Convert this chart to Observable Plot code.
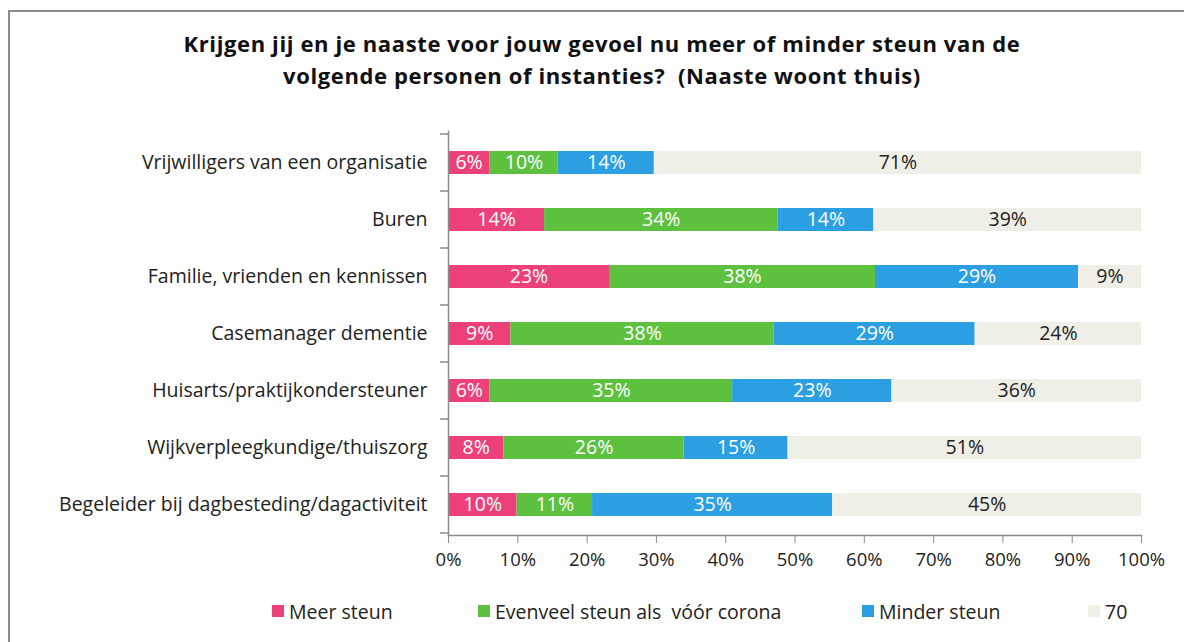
<!DOCTYPE html>
<html>
<head>
<meta charset="utf-8">
<script src="https://cdn.jsdelivr.net/npm/d3@7"></script>
<script src="https://cdn.jsdelivr.net/npm/@observablehq/plot@0.6"></script>
<style>
  html, body { margin: 0; padding: 0; background: #fff; overflow: hidden; }
  #wrap { position: relative; width: 1184px; height: 642px; overflow: hidden; font-family: "Open Sans", sans-serif; }
  #lineTop { position: absolute; left: 8px; top: 10px; width: 1176px; height: 2px; background: #8a8a8a; }
  #lineLeft { position: absolute; left: 8px; top: 10px; width: 2px; height: 632px; background: #8a8a8a; }
  #title { position: absolute; left: 0; top: 27px; width: 1184px; padding-left: 20px; box-sizing: border-box; text-align: center; font-weight: 700; font-size: 22px; letter-spacing: 0.62px; line-height: 32px; color: #111; }
  #chart { position: absolute; left: 0; top: 100px; }
  #legend { position: absolute; left: 0; top: 599px; width: 1184px; height: 24px; font-size: 19.5px; color: #222; }
  .item { position: absolute; top: 0; display: flex; align-items: center; height: 24px; white-space: pre; }
  .sw { width: 12px; height: 12px; margin-right: 5px; }
</style>
</head>
<body>
<div id="wrap">
  <div id="lineTop"></div>
  <div id="lineLeft"></div>
  <div id="title">Krijgen jij en je naaste voor jouw gevoel nu meer of minder steun van de<br>volgende personen of instanties?&nbsp; (Naaste woont thuis)</div>
  <div id="chart"></div>
  <div id="legend"></div>
</div>
<script>
const categories = [
  "Vrijwilligers van een organisatie",
  "Buren",
  "Familie, vrienden en kennissen",
  "Casemanager dementie",
  "Huisarts/praktijkondersteuner",
  "Wijkverpleegkundige/thuiszorg",
  "Begeleider bij dagbesteding/dagactiviteit"
];
const seriesNames = ["Meer steun", "Evenveel steun als  vóór corona", "Minder steun", "70"];
const meerSteun     = [6, 14, 23, 9, 6, 8, 10];
const evenveelSteun = [10, 34, 38, 38, 35, 26, 11];
const minderSteun   = [14, 14, 29, 29, 23, 15, 35];
const overig        = [71, 39, 9, 24, 36, 51, 45];
const colors = ["#ec407a", "#5dc13f", "#2c9fe3", "#efeee7"];
const xTicks = [0, 0.1, 0.2, 0.3, 0.4, 0.5, 0.6, 0.7, 0.8, 0.9, 1];

const seriesValues = [meerSteun, evenveelSteun, minderSteun, overig];
const data = [];
categories.forEach((c, i) => {
  seriesNames.forEach((s, j) => {
    data.push({category: c, series: s, value: seriesValues[j][i]});
  });
});

const stackOpts = {x: "value", y: "category", z: "series", order: seriesNames, offset: "normalize"};

const chart = Plot.plot({
  width: 1184,
  height: 480,
  marginLeft: 448,
  marginRight: 43,
  marginTop: 31,
  marginBottom: 45,
  style: {fontFamily: "Open Sans, sans-serif", background: "transparent"},
  x: {domain: [0, 1]},
  y: {domain: categories, paddingInner: 0.6, paddingOuter: 0.3},
  color: {domain: seriesNames, range: colors},
  marks: [
    Plot.barX(data, Plot.stackX({...stackOpts, fill: "series"})),
    Plot.text(data, Plot.stackX({
      ...stackOpts,
      text: d => d.value + "%",
      fill: d => d.series === "70" ? "#222" : "#fff",
      fontSize: 19.5
    })),
    Plot.axisX({ticks: xTicks, tickFormat: d => Math.round(d * 100) + "%", tickSize: 8, tickPadding: 9, fontSize: 18.5, stroke: "#8a8a8a", strokeOpacity: 1, color: "#222", label: null}),
    Plot.axisY({tickSize: 0, tickPadding: 21, fontSize: 19.5, color: "#222", label: null}),
    Plot.frame({anchor: "bottom", stroke: "#8a8a8a", strokeWidth: 1.5}),
    Plot.frame({anchor: "left", stroke: "#8a8a8a", strokeWidth: 1.5})
  ]
});
document.getElementById("chart").appendChild(chart);

// category boundary ticks on the y axis, from the plot's own band scale
const ys = chart.scale("y");
const x0 = chart.scale("x").apply(0);
const svg = d3.select(chart);
const step = ys.step !== undefined ? ys.step : (ys.bandwidth / (1 - 0.6));
const bounds = categories.map(c => ys.apply(c) - (step - ys.bandwidth) / 2);
bounds.push(ys.apply(categories[categories.length - 1]) + ys.bandwidth + (step - ys.bandwidth) / 2);
svg.append("g").selectAll("line").data(bounds).join("line")
  .attr("x1", x0 - 8).attr("x2", x0)
  .attr("y1", d => d).attr("y2", d => d)
  .attr("stroke", "#8a8a8a").attr("stroke-width", 1.5);

// legend
const legendLeft = [272, 478, 862, 1088];
const legend = document.getElementById("legend");
seriesNames.forEach((s, i) => {
  const item = document.createElement("div");
  item.className = "item";
  item.style.left = legendLeft[i] + "px";
  const sw = document.createElement("span");
  sw.className = "sw";
  sw.style.background = colors[i];
  const t = document.createElement("span");
  t.textContent = s;
  item.appendChild(sw);
  item.appendChild(t);
  legend.appendChild(item);
});
</script>
</body>
</html>
